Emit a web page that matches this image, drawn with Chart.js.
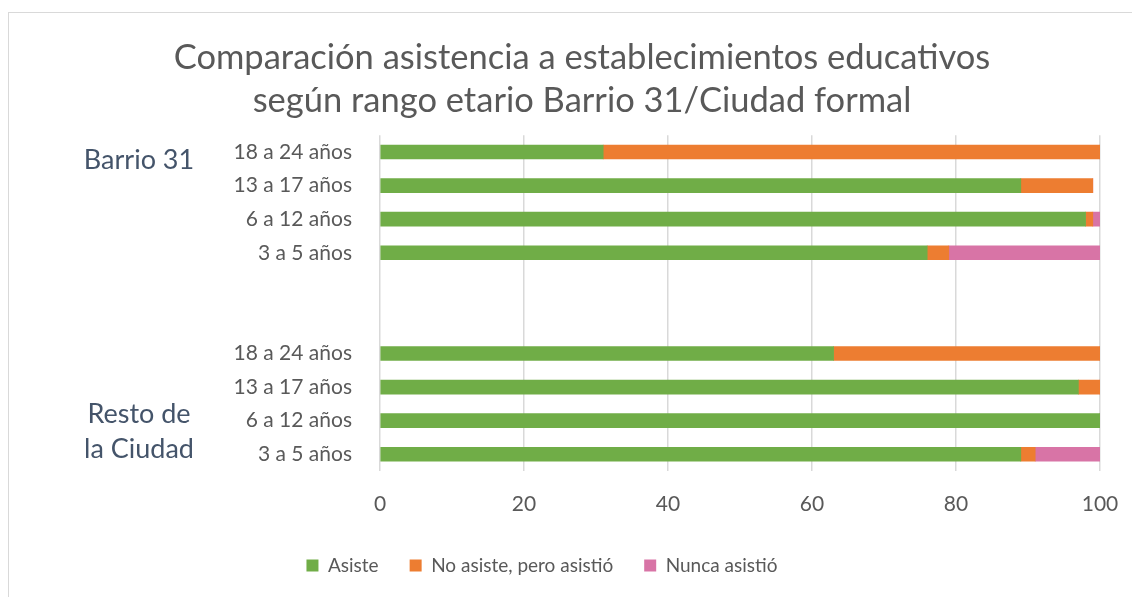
<!DOCTYPE html>
<html lang="es">
<head>
    <meta charset="UTF-8">
    <title>Comparación asistencia</title>
    <script src="https://cdn.jsdelivr.net/npm/chart.js"></script>
    <style>
        body { margin: 0; background: #fff; overflow: hidden; }
        #wrap { position: relative; width: 1132px; height: 597px; }
        #frame { position: absolute; left: 8px; top: 12px; width: 1200px; height: 700px;
                 border-top: 1px solid #d9d9d9; border-left: 1px solid #d9d9d9; }
    </style>
</head>
<body>
<div id="wrap">
    <div id="frame"></div>
    <canvas id="grafico" width="1132" height="597"></canvas>
</div>
<script>
    // filas de arriba hacia abajo; dos filas vacías separan los grupos
    const rangos = ['18 a 24 años', '13 a 17 años', '6 a 12 años', '3 a 5 años', '', '',
                    '18 a 24 años', '13 a 17 años', '6 a 12 años', '3 a 5 años'];
    const asiste       = [31, 89, 98, 76, null, null, 63, 97, 100, 89];
    const noAsiste     = [69, 10, 1, 3, null, null, 37, 3, 0, 2];
    const nuncaAsistio = [0, 0, 1, 21, null, null, 0, 0, 0, 9];
    const grupos = [
        { texto: ['Barrio 31'], desde: 0, hasta: 0 },
        { texto: ['Resto de', 'la Ciudad'], desde: 7, hasta: 9 }
    ];
    const ticksX = [0, 20, 40, 60, 80, 100];

    const gris = '#595959';
    const fuente = 'Lato, Carlito, Calibri, sans-serif';

    // etiquetas de grupo a la izquierda de las categorías
    const etiquetasGrupo = {
        id: 'etiquetasGrupo',
        afterLayout(chart) {
            // el título va algo a la derecha y la leyenda algo a la izquierda, como en el original
            chart.titleBlock.left += 32; chart.titleBlock.right += 32;
            chart.legend.left -= 8; chart.legend.right -= 8;
        },
        afterDraw(chart) {
            const ctx = chart.ctx;
            const y = chart.scales.y;
            ctx.save();
            ctx.font = '27px ' + fuente;
            ctx.fillStyle = '#44546A';
            ctx.textAlign = 'center';
            ctx.textBaseline = 'middle';
            grupos.forEach(g => {
                const centro = (y.getPixelForValue(g.desde) + y.getPixelForValue(g.hasta)) / 2;
                const alto = 35;
                const inicio = centro - (g.texto.length - 1) * alto / 2 + (g.texto.length === 1 ? 8 : 11);
                g.texto.forEach((t, i) => ctx.fillText(t, 139, inicio + i * alto));
            });
            ctx.restore();
        }
    };

    new Chart(document.getElementById('grafico'), {
        type: 'bar',
        data: {
            labels: rangos,
            datasets: [
                { label: 'Asiste', data: asiste, backgroundColor: '#70AD47' },
                { label: 'No asiste, pero asistió', data: noAsiste, backgroundColor: '#ED7D31' },
                { label: 'Nunca asistió', data: nuncaAsistio, backgroundColor: '#D874A6' }
            ]
        },
        options: {
            indexAxis: 'y',
            responsive: false,
            animation: false,
            barThickness: 14,
            layout: { padding: { left: 0, right: 32, top: 0, bottom: 12 } },
            scales: {
                x: {
                    stacked: true,
                    min: 0,
                    max: 100,
                    afterBuildTicks: s => { s.ticks = ticksX.map(v => ({ value: v })); },
                    afterFit: s => { s.height = 54; s.paddingLeft = 0; s.paddingRight = 0; },
                    grid: { color: '#d9d9d9', lineWidth: 1.5, drawTicks: false },
                    border: { display: false },
                    ticks: { color: gris, padding: 21, font: { family: fuente, size: 21 } }
                },
                y: {
                    stacked: true,
                    afterFit: s => { s.width = 380; },
                    grid: { display: false, drawTicks: false },
                    border: { display: false },
                    ticks: { color: gris, padding: 28, autoSkip: false, font: { family: fuente, size: 21 } }
                }
            },
            plugins: {
                title: {
                    display: true,
                    text: ['Comparación asistencia a establecimientos educativos',
                           'según rango etario Barrio 31/Ciudad formal'],
                    color: gris,
                    font: { family: fuente, size: 34.5, weight: 'normal', lineHeight: 1.25 },
                    padding: { top: 36, bottom: 13 }
                },
                legend: {
                    position: 'bottom',
                    labels: {
                        color: gris,
                        boxWidth: 12,
                        boxHeight: 12,
                        padding: 31,
                        font: { family: fuente, size: 19 }
                    }
                },
                tooltip: { enabled: false }
            }
        },
        plugins: [etiquetasGrupo]
    });
</script>
</body>
</html>
